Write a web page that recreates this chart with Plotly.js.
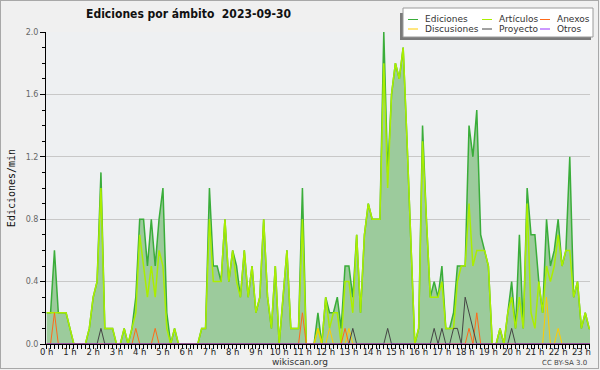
<!DOCTYPE html>
<html><head><meta charset="utf-8">
<script src="https://cdn.plot.ly/plotly-3.0.1.min.js"></script>
<style>
html,body{margin:0;padding:0;background:#f0f0f0;}
#wrap{position:relative;width:600px;height:370px;}
#chart{width:600px;height:370px;}
#wrap::after{content:"";position:absolute;left:0;top:0;width:599px;height:369px;box-sizing:border-box;border:1px solid #a8a8a8;pointer-events:none;}
</style></head><body>
<div id="wrap"><div id="chart"></div></div>
<script>
// Edits per minute, one value per 10-minute slot (row = one hour)
const ediciones = [
  0.2,0.2,0.6,0.2,0.2,0.2,
  0.1,0,0,0,0,0.1,
  0.3,0.4,1.1,0.1,0.1,0.1,
  0,0,0.1,0,0.1,0.3,
  0.8,0.8,0.5,0.8,0.5,0.8,
  1.0,0.2,0,0.1,0,0,
  0,0,0,0,0.1,0.1,
  1.0,0.5,0.5,0.4,0.8,0.4,
  0.6,0.5,0.3,0.6,0.3,0.5,
  0.2,0.3,0.8,0.3,0.1,0.5,
  0,0.3,0.6,0.1,0.1,0.1,
  1.0,0,0,0,0.2,0,
  0.3,0.2,0.2,0.3,0.1,0.5,
  0.5,0.3,0.7,0.2,0.7,0.9,
  0.8,0.8,0.8,2.0,1.1,1.6,
  1.8,1.7,1.9,1.3,0.6,0,
  0.1,1.4,0.8,0.3,0.4,0.3,
  0.5,0.1,0.1,0.2,0.5,0.5,
  0.5,1.4,1.2,1.5,0.7,0.6,
  0.5,0,0,0.1,0,0.2,
  0.4,0.1,0.7,0.1,1.0,0.7,
  0.7,0.4,0.2,0.8,0.5,0.6,
  0.8,0.5,0.6,1.2,0.3,0.4,
  0.1,0.2,0.1,0.1
];
const articulos = [
  0.2,0.2,0.2,0.2,0.2,0.2,
  0.1,0,0,0,0,0.1,
  0.3,0.4,1.0,0.1,0.1,0.1,
  0,0,0.1,0,0.1,0.2,
  0.7,0.5,0.3,0.5,0.3,0.6,
  0.5,0.1,0,0.1,0,0,
  0,0,0,0,0.1,0.1,
  0.8,0.4,0.4,0.4,0.8,0.4,
  0.6,0.4,0.3,0.6,0.3,0.5,
  0.2,0.3,0.8,0.3,0.1,0.5,
  0,0.3,0.6,0.1,0.1,0.1,
  0.8,0,0,0,0.1,0,
  0.3,0.1,0.2,0.2,0,0.4,
  0.4,0.2,0.7,0.2,0.7,0.9,
  0.8,0.8,0.8,1.8,1.0,1.6,
  1.8,1.7,1.9,1.3,0.6,0,
  0.1,1.3,0.8,0.3,0.3,0.3,
  0.4,0.1,0.1,0.1,0.4,0.5,
  0.5,0.9,0.5,0.6,0.6,0.6,
  0.5,0,0,0.1,0,0.2,
  0.3,0.1,0.3,0.1,0.9,0.2,
  0.1,0.4,0.2,0.5,0.4,0.5,
  0.7,0.5,0.6,0.6,0.3,0.4,
  0.1,0.2,0.1,0.1
];
const anexos = [
  0,0,0.2,0,0,0,
  0,0,0,0,0,0,
  0,0,0,0,0,0,
  0,0,0,0,0,0.1,
  0,0,0,0,0.1,0,
  0,0,0,0,0,0,
  0,0,0,0,0,0,
  0,0,0,0,0,0,
  0,0,0,0,0,0,
  0,0,0,0,0,0,
  0,0,0,0,0,0,
  0.2,0,0,0,0,0,
  0,0,0,0,0,0.1,
  0,0,0,0,0,0,
  0,0,0,0,0,0,
  0,0,0,0,0,0,
  0,0,0,0,0,0,
  0,0,0,0,0,0,
  0,0.1,0,0.2,0,0,
  0,0,0,0,0,0,
  0,0,0,0,0,0,
  0,0,0,0,0,0,
  0,0,0,0,0,0,
  0,0,0,0
];
const discusiones = [
  0,0,0,0,0,0,
  0,0,0,0,0,0,
  0,0,0,0,0,0,
  0,0,0,0,0,0,
  0,0,0,0,0,0,
  0,0,0,0,0,0,
  0,0,0,0,0,0,
  0,0,0,0,0,0,
  0,0,0,0,0,0,
  0,0,0,0,0,0,
  0,0,0,0,0,0,
  0,0,0,0,0.1,0,
  0,0.1,0,0,0,0,
  0.1,0,0,0,0,0,
  0,0,0,0,0,0,
  0,0,0,0,0,0,
  0,0,0,0,0,0,
  0,0,0,0,0,0,
  0,0,0,0,0,0,
  0,0,0,0,0,0,
  0,0,0,0,0,0,
  0,0,0,0.3,0,0,
  0.1,0,0,0,0,0,
  0,0,0,0
];
const proyecto = [
  0,0,0,0,0,0,
  0,0,0,0,0,0,
  0,0,0.1,0,0,0,
  0,0,0,0,0,0,
  0,0,0,0,0,0,
  0,0,0,0,0,0,
  0,0,0,0,0,0,
  0,0,0,0,0,0,
  0,0,0,0,0,0,
  0,0,0,0,0,0,
  0,0,0,0,0,0,
  0,0,0,0,0,0,
  0,0,0,0,0,0,
  0,0.1,0,0,0,0,
  0,0,0,0,0.1,0,
  0,0,0,0,0,0,
  0,0,0,0,0.1,0,
  0.1,0,0,0.1,0.1,0,
  0.3,0.2,0.1,0,0,0,
  0,0,0,0,0,0,
  0.1,0,0,0,0,0,
  0,0,0,0,0,0,
  0,0,0,0,0,0,
  0,0,0,0
];
const otros = [
  0,0,0,0,0,0, 0,0,0,0,0,0, 0,0,0,0,0,0, 0,0,0,0,0,0,
  0,0,0,0,0,0, 0,0,0,0,0,0, 0,0,0,0,0,0, 0,0,0,0,0,0,
  0,0,0,0,0,0, 0,0,0,0,0,0, 0,0,0,0,0,0, 0,0,0,0,0,0,
  0,0,0,0,0,0, 0,0,0,0,0,0, 0,0,0,0,0,0, 0,0,0,0,0,0,
  0,0,0,0,0,0, 0,0,0,0,0,0, 0,0,0,0,0,0, 0,0,0,0,0,0,
  0,0,0,0,0,0, 0,0,0,0,0,0, 0,0,0,0,0,0, 0,0,0,0
];
const hourTicks = [0,1,2,3,4,5,6,7,8,9,10,11,12,13,14,15,16,17,18,19,20,21,22,23];
const hourLabels = ['0 h','1 h','2 h','3 h','4 h','5 h','6 h','7 h','8 h','9 h','10 h','11 h',
                    '12 h','13 h','14 h','15 h','16 h','17 h','18 h','19 h','20 h','21 h','22 h','23 h'];
const seriesNames = ['Ediciones','Artículos','Anexos','Discusiones','Proyecto','Otros'];

// time of each 10-minute slot, in hours
const slotHours = ediciones.map((_, i) => i / 6);

const colors = {
  Ediciones: '#3aad3a', 'Artículos': '#aaee00', Anexos: '#ff6a1a',
  Discusiones: '#ffcc00', Proyecto: '#444444', Otros: '#9933ff'
};

const traces = [
  {x: slotHours, y: ediciones, name: seriesNames[0], type: 'scatter', mode: 'lines',
   fill: 'tozeroy', fillcolor: '#9ccb9c', line: {color: colors.Ediciones, width: 1.5}},
  {x: slotHours, y: articulos, name: seriesNames[1], type: 'scatter', mode: 'lines',
   line: {color: colors['Artículos'], width: 1.5}},
  {x: slotHours, y: discusiones, name: seriesNames[3], type: 'scatter', mode: 'lines',
   line: {color: colors.Discusiones, width: 1}},
  {x: slotHours, y: anexos, name: seriesNames[2], type: 'scatter', mode: 'lines',
   line: {color: colors.Anexos, width: 1}},
  {x: slotHours, y: proyecto, name: seriesNames[4], type: 'scatter', mode: 'lines',
   line: {color: colors.Proyecto, width: 1}},
  {x: slotHours, y: otros, name: seriesNames[5], type: 'scatter', mode: 'lines',
   line: {color: colors.Otros, width: 1}}
];

// pixel -> paper helpers (plot area: x 46..590, y 32..344)
const L = 46, R = 590, T = 32, B = 344;
const PX = px => (px - L) / (R - L);
const PY = py => (B - py) / (B - T);

const shapes = [
  {type: 'rect', xref: 'paper', yref: 'paper', layer: 'above',
   x0: PX(400), x1: PX(591), y0: PY(40), y1: PY(13), fillcolor: '#7a7a7a', line: {width: 0}},
  {type: 'rect', xref: 'paper', yref: 'paper', layer: 'above',
   x0: PX(403), x1: PX(593), y0: PY(37), y1: PY(8), fillcolor: '#ffffff', line: {color: '#9a9a9a', width: 1}}
];
const annotations = [];
const legendCells = [
  {name: 'Ediciones', col: 0, row: 0}, {name: 'Artículos', col: 1, row: 0}, {name: 'Anexos', col: 2, row: 0},
  {name: 'Discusiones', col: 0, row: 1}, {name: 'Proyecto', col: 1, row: 1}, {name: 'Otros', col: 2, row: 1}
];
const colX = [408, 482, 540];
const rowY = [19.5, 29];
legendCells.forEach(c => {
  const x0 = colX[c.col], y = rowY[c.row];
  shapes.push({type: 'line', xref: 'paper', yref: 'paper', layer: 'above',
    x0: PX(x0), x1: PX(x0 + 10), y0: PY(y), y1: PY(y), line: {color: colors[c.name], width: 1}});
  annotations.push({xref: 'paper', yref: 'paper', x: PX(x0 + 15), y: PY(y), xanchor: 'left', yanchor: 'middle',
    text: c.name, showarrow: false, font: {family: 'DejaVu Sans', size: 9, color: '#333'}});
});
annotations.push({xref: 'paper', yref: 'paper', x: PX(300), y: PY(362), xanchor: 'center', yanchor: 'middle',
  text: 'wikiscan.org', showarrow: false, font: {family: 'DejaVu Sans', size: 9, color: '#333'}});
annotations.push({xref: 'paper', yref: 'paper', x: PX(589), y: PY(362.5), xanchor: 'right', yanchor: 'middle',
  text: 'CC BY-SA 3.0', showarrow: false, font: {family: 'DejaVu Sans', size: 7, color: '#444'}});

const layout = {
  width: 600, height: 370,
  margin: {l: L, r: 600 - R, t: T, b: 370 - B, pad: 0},
  paper_bgcolor: '#f0f0f0', plot_bgcolor: '#eef0f2',
  showlegend: false,
  title: {text: 'Ediciones por ámbito\u00a0 2023-09-30', xref: 'container', yref: 'container',
          x: 188.5 / 600, xanchor: 'center', y: 1 - 13.5 / 370, yanchor: 'middle',
          font: {family: 'DejaVu Sans Condensed, DejaVu Sans', size: 12, weight: 'bold', color: '#111'}},
  xaxis: {range: [-0.03, 23.37], tickmode: 'array', tickvals: hourTicks, ticktext: hourLabels,
          showgrid: false, zeroline: false, showline: true, linecolor: '#000', linewidth: 1,
          ticks: 'outside', ticklen: 4, tickcolor: '#000', tickwidth: 1, layer: 'above traces',
          ticklabelstandoff: -4,
          tickfont: {family: 'DejaVu Sans', size: 8.5, color: '#222'},
          minor: {tick0: 0, dtick: 1/6, ticks: 'outside', ticklen: 4, tickcolor: '#000', showgrid: false}},
  yaxis: {range: [0, 2], tickmode: 'linear', tick0: 0, dtick: 0.4, tickformat: '.1f',
          showgrid: true, gridcolor: '#c8c8c8', gridwidth: 1, zeroline: false,
          showline: true, linecolor: '#000', linewidth: 1, layer: 'above traces',
          ticks: 'outside', ticklen: 5, tickcolor: '#000', tickwidth: 1,
          tickfont: {family: 'DejaVu Sans', size: 8, color: '#666'},
          minor: {tick0: 0, dtick: 0.1, ticks: 'outside', ticklen: 3, tickcolor: '#000', showgrid: false}},
  shapes: shapes,
  annotations: annotations
};
layout.yaxis.title = {text: 'Ediciones/min', standoff: 8, font: {family: 'DejaVu Sans Mono', size: 10, color: '#111'}};

Plotly.newPlot('chart', traces, layout, {staticPlot: true});
</script>
</body></html>
